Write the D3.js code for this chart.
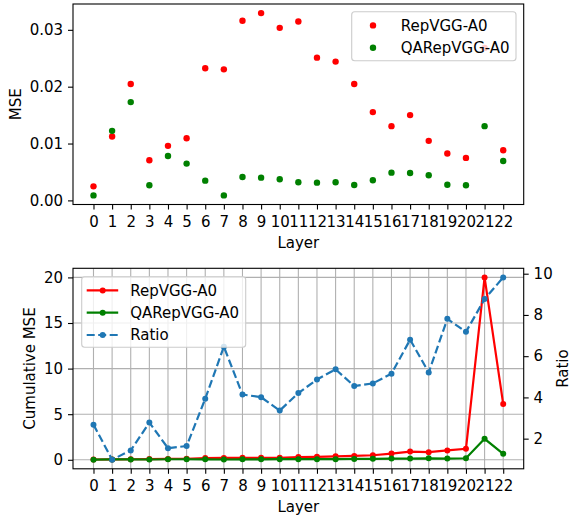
<!DOCTYPE html>
<html>
<head>
<meta charset="utf-8">
<script src="https://cdn.jsdelivr.net/npm/d3@7"></script>
<style>
  html, body { margin: 0; padding: 0; background: #fff; }
  svg { display: block; font-family: "DejaVu Sans", sans-serif; }
  text { fill: #000; }
</style>
</head>
<body>
<svg id="chart" width="572" height="517"></svg>
<script>
// Layer indices
const layers = d3.range(0, 23);

// Per-layer MSE (top panel)
const mseRep = [0.00247, 0.01123, 0.02047, 0.00706, 0.00959, 0.01094, 0.02323, 0.02305,
  0.03159, 0.03294, 0.03035, 0.03147, 0.02511, 0.02441, 0.02047, 0.01553, 0.01306,
  0.01500, 0.01047, 0.00824, 0.00747, 0.02682, 0.00882];
const mseQA = [0.00088, 0.01223, 0.01729, 0.00265, 0.00782, 0.00647, 0.00347, 0.00088,
  0.00412, 0.00400, 0.00371, 0.00318, 0.00312, 0.00318, 0.00271, 0.00353, 0.00488,
  0.00482, 0.00441, 0.00276, 0.00265, 0.01306, 0.00694];

// Cumulative MSE (bottom panel, left axis)
const cumRep = [0.03, 0.04, 0.06, 0.08, 0.09, 0.10, 0.19, 0.20, 0.21, 0.21, 0.22, 0.30,
  0.33, 0.38, 0.42, 0.50, 0.68, 0.90, 0.84, 1.03, 1.21, 20.0, 6.11];
const cumQA = [0.011, 0.041, 0.042, 0.029, 0.058, 0.061, 0.048, 0.031, 0.051, 0.052,
  0.065, 0.071, 0.068, 0.071, 0.092, 0.107, 0.132, 0.132, 0.161, 0.132, 0.169, 2.30, 0.65];

// Ratio (bottom panel, right axis)
const ratio = [2.68, 0.98, 1.43, 2.78, 1.54, 1.64, 3.93, 6.46, 4.14, 4.01, 3.36, 4.21,
  4.87, 5.36, 4.55, 4.68, 5.15, 6.80, 5.21, 7.81, 7.18, 8.77, 9.82];

// Tick values
const mseTicks = [0, 0.01, 0.02, 0.03];
const cumTicks = [0, 5, 10, 15, 20];
const ratioTicks = [2, 4, 6, 8, 10];

const names = ["RepVGG-A0", "QARepVGG-A0", "Ratio"];
const RED = "#ff0000", GREEN = "#008000", BLUE = "#1f77b4";

const FS = 15;
const LW = 2.2;
const svg = d3.select("#chart");

// matplotlib-like 5% padding around the data range
function padded(vals) {
  const lo = d3.min(vals), hi = d3.max(vals), m = (hi - lo) * 0.05;
  return [lo - m, hi + m];
}

const left = 73, right = 523.7;
const x = d3.scaleLinear().domain(padded(layers)).range([left, right]);

function styleAxis(g) {
  g.selectAll(".domain").remove();
  g.selectAll(".tick line").attr("stroke", "#000").attr("stroke-width", 1.1);
  g.selectAll(".tick text").attr("font-size", FS).attr("font-family", "DejaVu Sans").attr("fill", "#000");
}

function frame(top, bottom) {
  svg.append("rect").attr("x", left).attr("y", top)
    .attr("width", right - left).attr("height", bottom - top)
    .attr("fill", "none").attr("stroke", "#000").attr("stroke-width", 1.1);
}

function xAxis(bottom) {
  const g = svg.append("g").attr("transform", `translate(0,${bottom})`)
    .call(d3.axisBottom(x).tickValues(layers).tickFormat(d3.format("d")).tickSizeOuter(0).tickSize(5))
    .call(styleAxis);
  g.selectAll(".tick text").attr("y", 22.5).attr("dy", null);
  svg.append("text").attr("x", (left + right) / 2).attr("y", bottom + 43.4)
    .attr("text-anchor", "middle").attr("font-size", FS).text("Layer");
}

function legend(x0, y0, w, h, entries) {
  const g = svg.append("g");
  g.append("rect").attr("x", x0).attr("y", y0).attr("width", w).attr("height", h)
    .attr("rx", 3).attr("fill", "#fff").attr("fill-opacity", 0.8)
    .attr("stroke", "#cccccc").attr("stroke-width", 1.1);
  entries.forEach((e, i) => {
    const cy = y0 + 13.7 + i * 22.3;
    if (e.line) {
      g.append("line").attr("x1", x0 + 5).attr("x2", x0 + 36.5).attr("y1", cy).attr("y2", cy)
        .attr("stroke", e.color).attr("stroke-width", LW)
        .attr("stroke-dasharray", e.dash ? "8,3.5" : null);
      g.append("circle").attr("cx", x0 + 21).attr("cy", cy).attr("r", 3).attr("fill", e.color);
      g.append("text").attr("x", x0 + 48.5).attr("y", cy).attr("dy", "0.36em")
        .attr("font-size", FS).text(e.name);
    } else {
      g.append("circle").attr("cx", x0 + 21.3).attr("cy", cy).attr("r", 3.2).attr("fill", e.color);
      g.append("text").attr("x", x0 + 49).attr("y", cy).attr("dy", "0.36em")
        .attr("font-size", FS).text(e.name);
    }
  });
}

// ---------- Top panel: per-layer MSE scatter ----------
const t0 = 4, t1 = 204.5;
const yTop = d3.scaleLinear().domain(padded(mseRep.concat(mseQA))).range([t1, t0]);

svg.append("g").attr("transform", `translate(${left},0)`)
  .call(d3.axisLeft(yTop).tickValues(mseTicks).tickFormat(d3.format(".2f")).tickSize(5).tickPadding(4.9))
  .call(styleAxis);

svg.append("g").selectAll("circle").data(layers).join("circle")
  .attr("cx", d => x(d)).attr("cy", d => yTop(mseRep[d])).attr("r", 3.2).attr("fill", RED);
svg.append("g").selectAll("circle").data(layers).join("circle")
  .attr("cx", d => x(d)).attr("cy", d => yTop(mseQA[d])).attr("r", 3.2).attr("fill", GREEN);

frame(t0, t1);
xAxis(t1);
svg.append("text").attr("transform", `translate(16,${(t0 + t1) / 2}) rotate(-90)`)
  .attr("text-anchor", "middle").attr("dy", "0.36em").attr("font-size", FS).text("MSE");

legend(351.7, 11.7, 164.3, 49, [
  { name: names[0], color: RED },
  { name: names[1], color: GREEN }
]);

// ---------- Bottom panel: cumulative MSE and ratio ----------
const b0 = 268.3, b1 = 468.8;
const yCum = d3.scaleLinear().domain(padded(cumRep.concat(cumQA))).range([b1, b0]);
const yRat = d3.scaleLinear().domain(padded(ratio)).range([b1, b0]);

// grid
const grid = svg.append("g").attr("stroke", "#b0b0b0").attr("stroke-width", 1.1);
grid.selectAll(".gx").data(layers).join("line")
  .attr("x1", d => x(d)).attr("x2", d => x(d)).attr("y1", b0).attr("y2", b1);
grid.selectAll(".gy").data(cumTicks).join("line")
  .attr("x1", left).attr("x2", right).attr("y1", d => yCum(d)).attr("y2", d => yCum(d));

function series(vals, scale, color, dash) {
  const line = d3.line().x((d, i) => x(i)).y(d => scale(d));
  svg.append("path").datum(vals).attr("d", line).attr("fill", "none")
    .attr("stroke", color).attr("stroke-width", LW)
    .attr("stroke-dasharray", dash ? "8,3.5" : null);
  svg.append("g").selectAll("circle").data(vals).join("circle")
    .attr("cx", (d, i) => x(i)).attr("cy", d => scale(d)).attr("r", 3).attr("fill", color);
}

series(cumRep, yCum, RED, false);
series(cumQA, yCum, GREEN, false);
series(ratio, yRat, BLUE, true);

svg.append("g").attr("transform", `translate(${left},0)`)
  .call(d3.axisLeft(yCum).tickValues(cumTicks).tickFormat(d3.format("d")).tickSize(5).tickPadding(4.9))
  .call(styleAxis);
svg.append("g").attr("transform", `translate(${right},0)`)
  .call(d3.axisRight(yRat).tickValues(ratioTicks).tickFormat(d3.format("d")).tickSize(5).tickPadding(4.9))
  .call(styleAxis);

frame(b0, b1);
xAxis(b1);
svg.append("text").attr("transform", `translate(30,${(b0 + b1) / 2}) rotate(-90)`)
  .attr("text-anchor", "middle").attr("dy", "0.36em").attr("font-size", FS).text("Cumulative MSE");
svg.append("text").attr("transform", `translate(563,${(b0 + b1) / 2}) rotate(-90)`)
  .attr("text-anchor", "middle").attr("dy", "0.36em").attr("font-size", FS).text("Ratio");

legend(81.7, 276.7, 164, 70.6, [
  { name: names[0], color: RED, line: true },
  { name: names[1], color: GREEN, line: true },
  { name: names[2], color: BLUE, line: true, dash: true }
]);
</script>
</body>
</html>
